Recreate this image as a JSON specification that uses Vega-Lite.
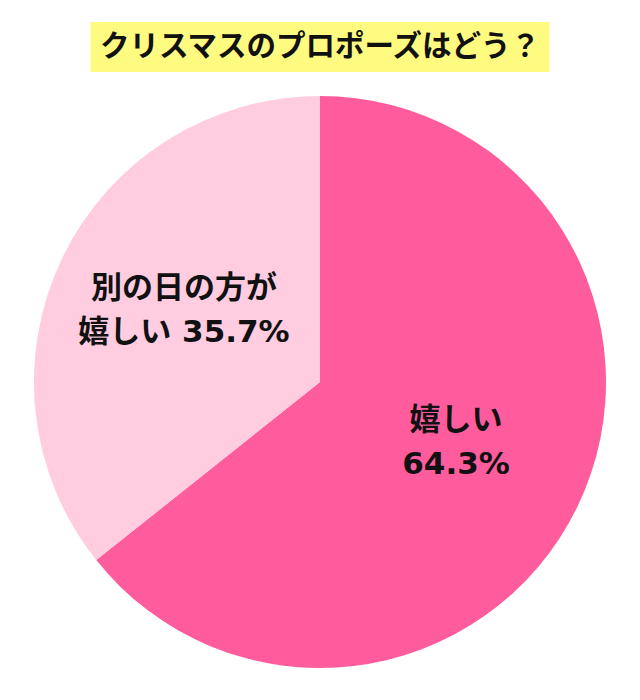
{
  "$schema": "https://vega.github.io/schema/vega-lite/v6.json",
  "background": "white",
  "padding": {"top": 22, "left": 0, "right": 0, "bottom": 0},
  "spacing": 24,
  "center": true,
  "config": {
    "view": {"stroke": null},
    "text": {"font": "DejaVu Sans, Noto Sans CJK JP", "fontWeight": "bold"}
  },
  "vconcat": [
    {
      "width": 459,
      "height": 50,
      "view": {"fill": "#FFFB80", "stroke": null},
      "data": {"values": [{"title": "クリスマスのプロポーズはどう？"}]},
      "mark": {"type": "text", "fontSize": 29.5, "font": "Noto Sans CJK JP", "fontWeight": "bold", "color": "#111111", "baseline": "middle", "align": "center"},
      "encoding": {"text": {"field": "title"}}
    },
    {
      "width": 640,
      "height": 572,
      "data": {
        "values": [
          {"answer": "嬉しい", "value": 64.3, "label": "嬉しい\n64.3%"},
          {"answer": "別の日の方が嬉しい", "value": 35.7, "label": "別の日の方が\n嬉しい 35.7%"}
        ]
      },
      "encoding": {
        "theta": {"field": "value", "type": "quantitative", "stack": true},
        "order": {"field": "value", "sort": "descending"}
      },
      "layer": [
        {
          "mark": {"type": "arc"},
          "encoding": {
            "color": {
              "field": "answer",
              "type": "nominal",
              "scale": {"domain": ["嬉しい", "別の日の方が嬉しい"], "range": ["#FF5C9D", "#FFCCE0"]},
              "legend": null
            }
          }
        },
        {
          "mark": {"type": "text", "radius": 151, "dy": -27, "fontSize": 31, "lineHeight": 44, "lineBreak": "\n", "color": "#111111", "align": "center", "baseline": "middle"},
          "encoding": {"text": {"field": "label"}}
        }
      ]
    }
  ]
}
